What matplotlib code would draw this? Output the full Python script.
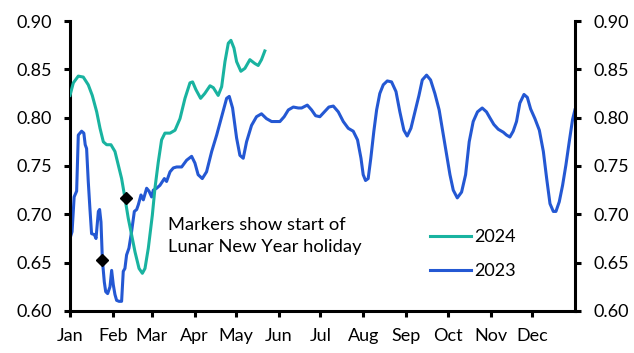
import matplotlib.pyplot as plt

# day of year (0 = 1 Jan) and value
days_2023 = [0, 1.5, 3, 4.8, 6, 8.4, 10, 11, 12, 13.2, 14.4, 15.6, 17.6, 18.8, 20.5,
             21.4, 22.4, 23.4, 24.8, 25.8, 27.2, 28.9, 30.1, 31.3, 32.5, 33.7, 35.4,
             37.3, 38.5, 39.7, 40.9, 42.6, 44.5, 46.5, 48.2, 49.4, 51.3, 53, 55.4,
             57.1, 59, 60.2, 62.6, 65, 68.2, 69.8, 72.3, 74.7, 77.1, 80.7, 84.3, 87.9,
             90.3, 92.6, 95.6, 98.7, 102.4, 106, 109.6, 113.2, 115.1, 117.5, 120.4,
             122.8, 125.2, 127.6, 131.2, 134.8, 138.4, 142, 145.7, 149.3, 151.7, 154.8,
             157.8, 161.4, 165, 167.4, 171.5, 174.6, 177.5, 180.6, 183.8, 187.1, 190.3,
             193.9, 197.5, 201.1, 204.7, 207.8, 210.3, 211.9, 213.6, 215.5, 217.4,
             219.6, 221.6, 223.9, 226.4, 229.3, 232.4, 235.6, 238.4, 241.3, 243.7,
             246.4, 249.3, 252.2, 254.6, 257.7, 260.6, 263.7, 266.8, 269.8, 272.2,
             274.6, 277, 279.9, 283, 285.9, 288.5, 291.4, 294.5, 297.9, 301, 303.4,
             306.3, 309.5, 313.1, 315.5, 317.9, 320.3, 322.7, 325.1, 328.1, 330.5,
             332.9, 336, 339.2, 342.1, 344.5, 346.9, 349.3, 351.2, 353.6, 356, 358.4,
             360.8, 363.2, 364.9]
vals_2023 = [0.675, 0.682, 0.718, 0.724, 0.782, 0.786, 0.784, 0.772, 0.768, 0.734, 0.706,
             0.680, 0.679, 0.675, 0.703, 0.705, 0.692, 0.653, 0.630, 0.620, 0.618, 0.625,
             0.642, 0.627, 0.617, 0.611, 0.610, 0.610, 0.641, 0.644, 0.658, 0.665, 0.682,
             0.703, 0.705, 0.710, 0.720, 0.715, 0.727, 0.724, 0.718, 0.725, 0.727, 0.730,
             0.737, 0.734, 0.744, 0.748, 0.749, 0.749, 0.756, 0.760, 0.753, 0.741, 0.737,
             0.744, 0.765, 0.782, 0.801, 0.820, 0.822, 0.810, 0.779, 0.761, 0.758, 0.775,
             0.792, 0.801, 0.804, 0.799, 0.796, 0.796, 0.796, 0.801, 0.808, 0.811, 0.810,
             0.810, 0.813, 0.808, 0.802, 0.801, 0.806, 0.811, 0.812, 0.806, 0.796, 0.789,
             0.786, 0.777, 0.758, 0.741, 0.735, 0.737, 0.758, 0.786, 0.808, 0.825, 0.834,
             0.838, 0.837, 0.827, 0.806, 0.787, 0.781, 0.789, 0.806, 0.823, 0.839, 0.844,
             0.839, 0.825, 0.808, 0.782, 0.761, 0.741, 0.725, 0.717, 0.723, 0.741, 0.775,
             0.796, 0.806, 0.810, 0.806, 0.800, 0.793, 0.788, 0.785, 0.782, 0.780, 0.786,
             0.796, 0.815, 0.824, 0.821, 0.809, 0.799, 0.787, 0.765, 0.737, 0.711, 0.703,
             0.703, 0.713, 0.730, 0.751, 0.775, 0.798, 0.808]

days_2024 = [0, 2.4, 6, 9.6, 13.2, 16.1, 19.3, 21.7, 24.1, 26.5, 29.6, 32.5, 34.9, 37.3,
             39.7, 42.1, 44.5, 47, 49.9, 52.3, 54.2, 56.6, 59.5, 61.4, 63.8, 66.2, 68.6,
             72.3, 75.9, 79.5, 83.1, 86.7, 88.6, 91, 94.4, 97.4, 101.2, 103.6, 107.1,
             109.6, 112, 114.4, 116.3, 118.5, 120.4, 123.5, 126.4, 130, 133.6, 136,
             138.4, 140.8]
vals_2024 = [0.823, 0.836, 0.843, 0.842, 0.834, 0.823, 0.806, 0.789, 0.775, 0.772, 0.772,
             0.765, 0.751, 0.737, 0.717, 0.696, 0.679, 0.661, 0.644, 0.639, 0.644, 0.665,
             0.699, 0.727, 0.754, 0.777, 0.784, 0.784, 0.787, 0.799, 0.820, 0.836, 0.837,
             0.829, 0.820, 0.825, 0.833, 0.831, 0.823, 0.832, 0.858, 0.877, 0.880, 0.872,
             0.858, 0.848, 0.851, 0.860, 0.856, 0.854, 0.860, 0.869]

# start of Lunar New Year holiday
lny_days = [23.1, 40.2]
lny_vals = [0.653, 0.717]

month_starts = [0, 31, 59, 90, 120, 151, 181, 212, 243, 273, 304, 334]
month_labels = ['Jan', 'Feb', 'Mar', 'Apr', 'May', 'Jun',
                'Jul', 'Aug', 'Sep', 'Oct', 'Nov', 'Dec']
yticks = [0.60, 0.65, 0.70, 0.75, 0.80, 0.85, 0.90]

plt.rcParams['font.family'] = ['Lato', 'DejaVu Sans']
fs = 13

green = '#19b3a0'
blue = '#2458d3'

fig = plt.figure(figsize=(6.34, 3.53), dpi=100)
ax = fig.add_axes([0.1104, 0.119, 0.7966, 0.8215])

ax.plot(days_2024, vals_2024, color=green, lw=2.2, label='2024', zorder=3)
ax.plot(days_2023, vals_2023, color=blue, lw=2.2, label='2023', zorder=2)
ax.plot(lny_days, lny_vals, linestyle='none', marker='D', color='black',
        markersize=6, zorder=4)

ax.set_xlim(0, 365)
ax.set_ylim(0.60, 0.90)
ax.set_xticks(month_starts)
ax.set_xticklabels(month_labels)
ax.set_yticks(yticks)
ax.set_yticklabels(['%.2f' % v for v in yticks])

ax2 = ax.twinx()
ax2.set_ylim(0.60, 0.90)
ax2.set_yticks(yticks)
ax2.set_yticklabels(['%.2f' % v for v in yticks])

for a in (ax, ax2):
    a.spines['top'].set_visible(False)
    for s in ('left', 'right', 'bottom'):
        a.spines[s].set_linewidth(2.2)
    a.tick_params(width=2.2, length=4, pad=9, labelsize=fs)
ax.spines['right'].set_visible(False)
ax2.spines['left'].set_visible(False)
ax2.spines['bottom'].set_visible(False)
ax.tick_params(axis='x', pad=8)

ax.text(71, 0.678, 'Markers show start of\nLunar New Year holiday',
        fontsize=13.2, va='center', ha='left', linespacing=1.45)

ax.legend(loc='upper left', bbox_to_anchor=(0.712, 0.283), frameon=False,
          handlelength=2.3, handletextpad=0.15, labelspacing=1.0,
          fontsize=fs, borderaxespad=0, borderpad=0)

fig.savefig('out.png', dpi=100)
